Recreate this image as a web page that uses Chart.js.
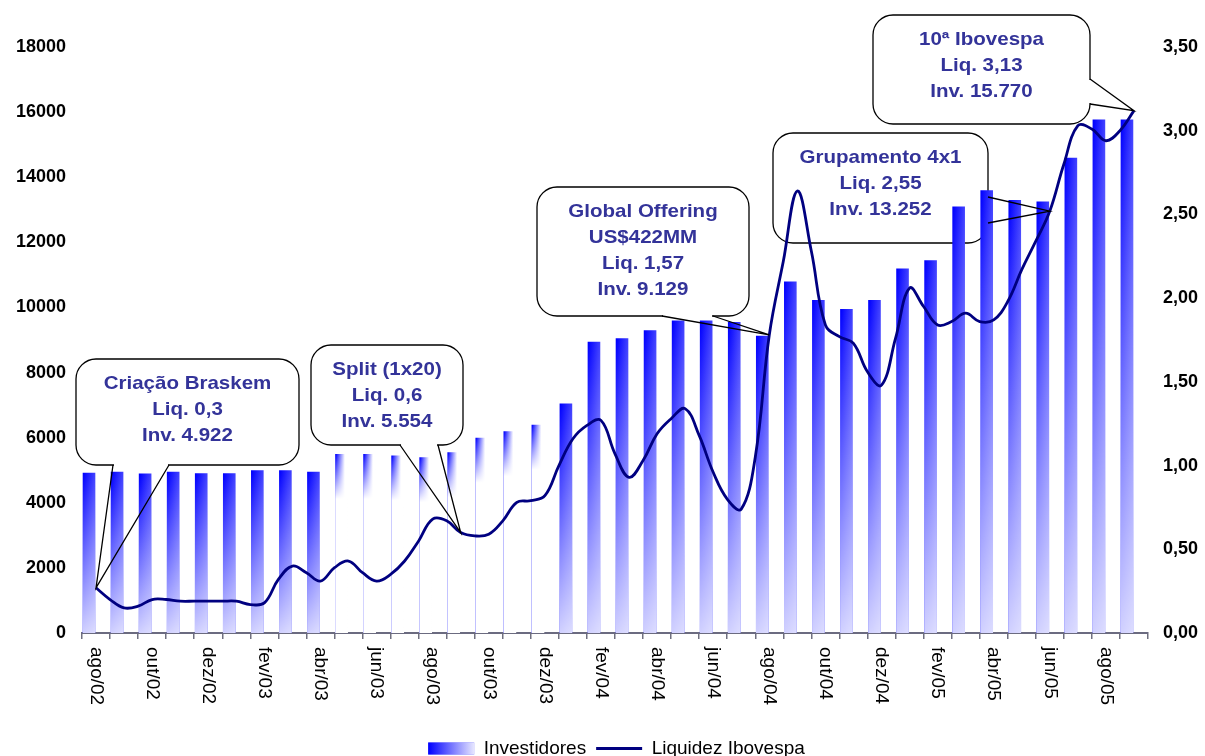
<!DOCTYPE html>
<html>
<head>
<meta charset="utf-8">
<script src="https://cdn.jsdelivr.net/npm/chart.js@4.4.1/dist/chart.umd.min.js"></script>
<style>
  html, body { margin: 0; padding: 0; background: #fff; }
  canvas { display: block; }
</style>
</head>
<body>
<canvas id="grafico" width="1205" height="756"></canvas>
<script>
// meses (ago/02 ate set/05)
var meses = ['ago/02','set/02','out/02','nov/02','dez/02',
  'jan/03','fev/03','mar/03','abr/03','mai/03','jun/03','jul/03','ago/03','set/03','out/03','nov/03','dez/03',
  'jan/04','fev/04','mar/04','abr/04','mai/04','jun/04','jul/04','ago/04','set/04','out/04','nov/04','dez/04',
  'jan/05','fev/05','mar/05','abr/05','mai/05','jun/05','jul/05','ago/05','set/05'];

// numero de investidores por mes (eixo esquerdo)
var investidores = [4922, 4950, 4900, 4950, 4910,
  4910, 5000, 5000, 4950, 5500, 5500, 5450, 5400, 5554, 6000, 6200, 6400,
  7050, 8950, 9050, 9300, 9600, 9600, 9550, 9129, 10800, 10230, 9950, 10230,
  11200, 11450, 13100, 13600, 13300, 13252, 14600, 15770, 15770];

// liquidez ibovespa, uma leitura por quinzena a partir de ago/02 (eixo direito)
var liquidez = [0.27, 0.20, 0.15, 0.16, 0.20, 0.20, 0.19, 0.19, 0.19, 0.19,
  0.19, 0.17, 0.18, 0.32, 0.40, 0.36, 0.31, 0.39, 0.43, 0.36,
  0.31, 0.35, 0.43, 0.55, 0.68, 0.67, 0.60, 0.58, 0.59, 0.67,
  0.78, 0.79, 0.82, 1.00, 1.16, 1.24, 1.27, 1.07, 0.93, 1.03,
  1.19, 1.28, 1.34, 1.18, 0.96, 0.80, 0.74, 1.05, 1.78, 2.22,
  2.64, 2.28, 1.84, 1.77, 1.73, 1.56, 1.48, 1.76, 2.06, 1.95,
  1.84, 1.86, 1.91, 1.86, 1.87, 1.98, 2.17, 2.34, 2.52, 2.80,
  3.03, 3.01, 2.94, 3.00, 3.12];

// meses com a barra "apagada" no original
var barrasClaras = [9, 10, 11, 12, 13, 14, 15, 16];

var fonte = '"Liberation Sans", Arial, sans-serif';

var baloes = [
  { linhas: ['Criação Braskem', 'Liq. 0,3', 'Inv. 4.922'], mes: 0,
    caixa: [76, 359, 299, 465], lado: 'baixo', base: [113, 169] },
  { linhas: ['Split (1x20)', 'Liq. 0,6', 'Inv. 5.554'], mes: 13,
    caixa: [311, 345, 463, 445], lado: 'baixo', base: [400, 438] },
  { linhas: ['Global Offering', 'US$422MM', 'Liq. 1,57', 'Inv. 9.129'], mes: 24,
    caixa: [537, 187, 749, 316], lado: 'baixo', base: [662, 713] },
  { linhas: ['Grupamento 4x1', 'Liq. 2,55', 'Inv. 13.252'], mes: 34,
    caixa: [773, 133, 988, 243], lado: 'direita', base: [197, 223] },
  { linhas: ['10ª Ibovespa', 'Liq. 3,13', 'Inv. 15.770'], mes: 37,
    caixa: [873, 15, 1090, 124], lado: 'direita', base: [79, 104] }
];

var larguraBarra = 0.9;

function corBarra(context) {
  var chart = context.chart;
  var xs = chart.scales.x;
  if (!chart.chartArea || !xs || context.type !== 'data') return '#5050ff';
  var i = context.dataIndex;
  var w = xs.width / meses.length * larguraBarra;
  var cx = xs.getPixelForValue(i);
  var clara = barrasClaras.indexOf(i) >= 0;
  var g = chart.ctx.createLinearGradient(cx - w / 2, 0, clara ? cx - w / 2 + 9 : cx + w / 2, 0);
  if (clara) {
    g.addColorStop(0, '#0000ff');
    g.addColorStop(1, '#ffffff');
  } else {
    g.addColorStop(0, '#0000ff');
    g.addColorStop(0.5, '#4646ff');
    g.addColorStop(1, '#a8a8ff');
  }
  return g;
}

function caminhoCaixa(c, l, t, r, b, rad) {
  c.beginPath();
  c.moveTo(l + rad, t);
  c.arcTo(r, t, r, b, rad);
  c.arcTo(r, b, l, b, rad);
  c.arcTo(l, b, l, t, rad);
  c.arcTo(l, t, r, t, rad);
  c.closePath();
}

function pontaBalao(chart, b) {
  return {
    x: chart.scales.x.getPixelForValue(b.mes),
    y: chart.scales.y2.getPixelForValue(liquidez[b.mes * 2])
  };
}

var desenhos = {
  id: 'desenhos',
  beforeDatasetsDraw: function(chart) {
    var c = chart.ctx;
    baloes.forEach(function(b) {
      var l = b.caixa[0], t = b.caixa[1], r = b.caixa[2], bt = b.caixa[3];
      c.save();
      caminhoCaixa(c, l, t, r, bt, 20);
      c.fillStyle = '#fff';
      c.fill();
      c.strokeStyle = '#000';
      c.lineWidth = 1.3;
      c.stroke();
      // abre o contorno onde sai a ponta
      c.strokeStyle = '#fff';
      c.lineWidth = 3;
      c.beginPath();
      if (b.lado === 'baixo') {
        c.moveTo(b.base[0] + 1, bt);
        c.lineTo(b.base[1] - 1, bt);
      } else {
        c.moveTo(r, b.base[0] + 1);
        c.lineTo(r, b.base[1] - 1);
      }
      c.stroke();
      c.fillStyle = '#333399';
      c.font = 'bold 19px ' + fonte;
      c.textAlign = 'center';
      c.textBaseline = 'middle';
      b.linhas.forEach(function(txt, k) {
        c.save();
        c.translate((l + r) / 2, t + 25 + k * 26);
        c.scale(1.08, 1);
        c.fillText(txt, 0, 0);
        c.restore();
      });
      c.restore();
    });
  },
  afterDatasetDraw: function(chart, args) {
    if (args.meta.type !== 'bar') return;
    var c = chart.ctx;
    c.save();
    args.meta.data.forEach(function(el, i) {
      var p = el.getProps(['x', 'y', 'base', 'width'], true);
      var clara = barrasClaras.indexOf(i) >= 0;
      var g = c.createLinearGradient(0, p.y, 0, clara ? p.y + 45 : p.base);
      g.addColorStop(0, 'rgba(255,255,255,0)');
      g.addColorStop(1, clara ? 'rgba(255,255,255,1)' : 'rgba(255,255,255,0.82)');
      c.fillStyle = g;
      c.fillRect(p.x - p.width / 2, p.y, p.width, p.base - p.y);
    });
    c.restore();
  },
  afterDatasetsDraw: function(chart) {
    var c = chart.ctx;
    c.save();
    c.strokeStyle = '#000';
    c.lineWidth = 1.3;
    baloes.forEach(function(b) {
      var p = pontaBalao(chart, b);
      c.beginPath();
      if (b.lado === 'baixo') {
        c.moveTo(b.base[0], b.caixa[3]);
        c.lineTo(p.x, p.y);
        c.lineTo(b.base[1], b.caixa[3]);
      } else {
        c.moveTo(b.caixa[2], b.base[0]);
        c.lineTo(p.x, p.y);
        c.lineTo(b.caixa[2], b.base[1]);
      }
      c.stroke();
    });
    c.restore();
  },
  afterDraw: function(chart) {
    var c = chart.ctx;
    var xs = chart.scales.x;
    c.save();
    c.fillStyle = '#000';
    c.font = '19px ' + fonte;
    c.textAlign = 'left';
    c.textBaseline = 'middle';
    meses.forEach(function(m, i) {
      if (i % 2 !== 0) return;
      c.save();
      c.translate(xs.getPixelForValue(i), chart.chartArea.bottom + 14);
      c.rotate(Math.PI / 2);
      c.fillText(m, 0, 0);
      c.restore();
    });
    // amostra da legenda com degrade
    var hb = chart.legend.legendHitBoxes[0];
    if (hb) {
      var cy = hb.top + hb.height / 2;
      var g = c.createLinearGradient(hb.left, 0, hb.left + 46, 0);
      g.addColorStop(0, '#0000ff');
      g.addColorStop(1, '#e6e6ff');
      c.fillStyle = g;
      c.fillRect(hb.left, cy - 6, 46, 12);
    }
    c.restore();
  }
};

var ctx = document.getElementById('grafico').getContext('2d');
var chart = new Chart(ctx, {
  type: 'bar',
  data: {
    labels: meses,
    datasets: [{
      type: 'bar',
      label: 'Investidores',
      data: investidores,
      xAxisID: 'x',
      yAxisID: 'y',
      backgroundColor: corBarra,
      borderWidth: 0,
      barPercentage: larguraBarra,
      categoryPercentage: 1,
      order: 2
    }, {
      type: 'line',
      label: 'Liquidez Ibovespa',
      data: liquidez.map(function(v, k) { return { x: k / 2, y: v }; }),
      xAxisID: 'xl',
      yAxisID: 'y2',
      borderColor: '#000080',
      borderWidth: 2.8,
      pointRadius: 0,
      tension: 0.4,
      fill: false,
      order: 1
    }]
  },
  options: {
    responsive: false,
    animation: false,
    devicePixelRatio: 1,
    layout: { padding: { top: 47, left: 0, right: -28, bottom: -12 } },
    scales: {
      x: {
        type: 'category',
        offset: true,
        grid: { offset: true, drawOnChartArea: false, drawTicks: true, tickLength: 6, color: '#707080', lineWidth: 1.5 },
        border: { display: true, color: '#6b6b80', width: 2 },
        ticks: { display: false, autoSkip: false },
        afterFit: function(s) { s.height = 96; }
      },
      xl: { type: 'linear', display: false, offset: false, bounds: 'data', grace: 0, min: -0.5, max: 37.5 },
      y: {
        position: 'left',
        min: 0,
        max: 18000,
        grid: { display: false, drawTicks: false },
        border: { display: false },
        ticks: {
          stepSize: 2000,
          padding: 16,
          color: '#000',
          font: { family: fonte, size: 18, weight: 'bold' },
          callback: function(v) { return String(v); }
        },
        afterFit: function(s) { s.width = 82; }
      },
      y2: {
        position: 'right',
        min: 0,
        max: 3.5,
        grid: { display: false, drawTicks: false },
        border: { display: false },
        ticks: {
          stepSize: 0.5,
          padding: 15,
          color: '#000',
          font: { family: fonte, size: 18, weight: 'bold' },
          callback: function(v) { return v.toFixed(2).replace('.', ','); }
        },
        afterFit: function(s) { s.width = 85; }
      }
    },
    plugins: {
      tooltip: { enabled: false },
      legend: {
        position: 'bottom',
        labels: {
          usePointStyle: true,
          pointStyleWidth: 46,
          boxHeight: 12,
          padding: 10,
          color: '#000',
          font: { family: fonte, size: 19 },
          generateLabels: function() {
            return [
              { text: 'Investidores', fillStyle: '#6b6bff', strokeStyle: 'rgba(0,0,0,0)', lineWidth: 0, pointStyle: 'rect', datasetIndex: 0, hidden: false },
              { text: 'Liquidez Ibovespa', fillStyle: '#000080', strokeStyle: '#000080', lineWidth: 3, pointStyle: 'line', datasetIndex: 1, hidden: false }
            ];
          }
        }
      }
    }
  },
  plugins: [desenhos]
});
</script>
</body>
</html>
